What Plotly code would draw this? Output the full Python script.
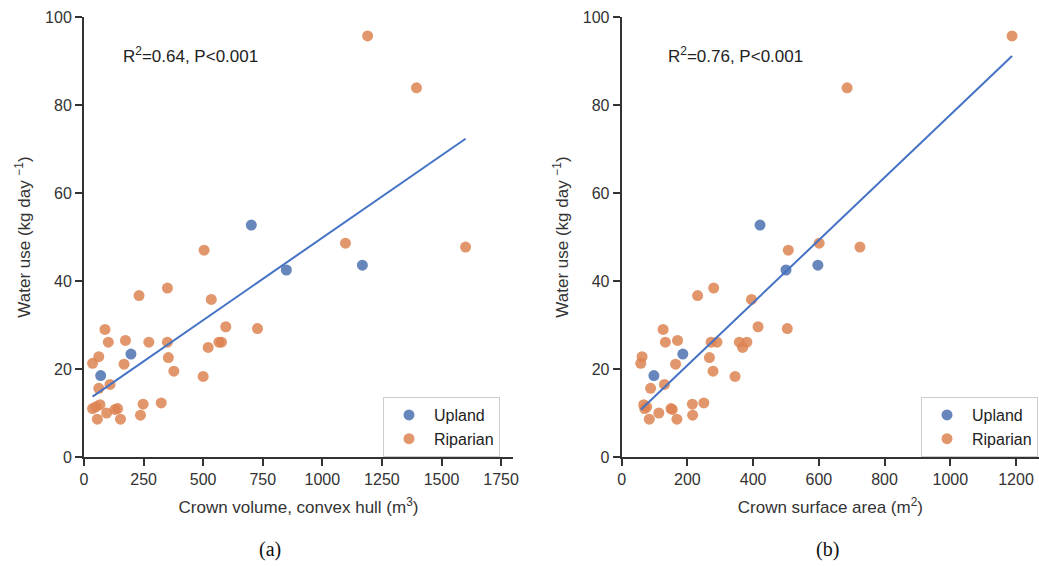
import numpy as np
import plotly.graph_objects as go

# ---- data ----
upland_volume = [702, 849, 1168, 197, 70]
upland_area = [421, 500, 597, 186, 98]
upland_water = [52.7, 42.5, 43.6, 23.4, 18.5]

riparian_volume = [1190, 1395, 1601, 1097, 504, 231, 350, 534, 88, 595, 728,
                   102, 272, 350, 566, 577, 174, 521, 62, 36, 354, 168, 377,
                   500, 109, 62, 67, 50, 36, 130, 141, 95, 248, 324, 56, 153, 237]
riparian_area = [1188, 686, 725, 601, 507, 231, 280, 395, 126, 415, 504,
                 133, 272, 290, 358, 381, 170, 368, 62, 58, 267, 164, 278,
                 345, 130, 88, 67, 76, 70, 154, 150, 113, 215, 250, 84, 168, 216]
riparian_water = [95.7, 83.9, 47.7, 48.6, 47.0, 36.7, 38.4, 35.8, 29.0, 29.6, 29.2,
                  26.1, 26.1, 26.1, 26.1, 26.1, 26.5, 24.9, 22.8, 21.3, 22.6, 21.1, 19.5,
                  18.3, 16.5, 15.6, 11.9, 11.4, 11.0, 10.8, 11.0, 10.0, 12.0, 12.3, 8.6, 8.6, 9.5]

stats_labels = ["R<sup>2</sup>=0.64, P&lt;0.001", "R<sup>2</sup>=0.76, P&lt;0.001"]
panel_labels = ["(a)", "(b)"]
x_titles = ["Crown volume, convex hull (m<sup>3</sup>)", "Crown surface area (m<sup>2</sup>)"]
y_title = "Water use (kg day <sup>−1</sup>)"

W, H = 1039, 566
UP_COL = "rgba(76,114,176,0.85)"
RIP_COL = "rgba(221,132,82,0.85)"
LINE_COL = "#4472C4"
FONT = "Liberation Sans, Arial, sans-serif"

fig = go.Figure()

panels = [
    dict(xu=upland_volume, xr=riparian_volume, xa="x", ya="y", leg="legend"),
    dict(xu=upland_area, xr=riparian_area, xa="x2", ya="y2", leg="legend2"),
]
for p in panels:
    fig.add_trace(go.Scatter(x=p["xu"], y=upland_water, mode="markers", name="Upland",
                             marker=dict(size=11, color=UP_COL, line=dict(width=0)),
                             xaxis=p["xa"], yaxis=p["ya"], legend=p["leg"]))
    fig.add_trace(go.Scatter(x=p["xr"], y=riparian_water, mode="markers", name="Riparian",
                             marker=dict(size=11, color=RIP_COL, line=dict(width=0)),
                             xaxis=p["xa"], yaxis=p["ya"], legend=p["leg"]))
    allx = np.array(p["xu"] + p["xr"], dtype=float)
    ally = np.array(upland_water + riparian_water, dtype=float)
    k, b = np.polyfit(allx, ally, 1)
    lx = np.array([allx.min(), allx.max()])
    fig.add_trace(go.Scatter(x=lx, y=k * lx + b, mode="lines", showlegend=False,
                             line=dict(color=LINE_COL, width=2),
                             xaxis=p["xa"], yaxis=p["ya"]))

ydom = [1 - 457 / H, 1 - 17 / H]
axis_common = dict(showline=True, linecolor="#333", linewidth=2, ticks="outside",
                   ticklen=7, tickwidth=1.5, tickcolor="#333", showgrid=False,
                   zeroline=False, automargin=False,
                   tickfont=dict(size=16, color="#333", family=FONT),
                   title_font=dict(size=17, color="#333", family=FONT))

fig.update_layout(
    width=W, height=H, margin=dict(l=0, r=0, t=0, b=0),
    paper_bgcolor="white", plot_bgcolor="white",
    font=dict(family=FONT, color="#333"),
    xaxis=dict(domain=[84 / W, 513 / W], range=[0, 1800], tickvals=[0, 250, 500, 750, 1000, 1250, 1500, 1750],
               anchor="y", title=dict(text=x_titles[0], standoff=14), **axis_common),
    yaxis=dict(domain=ydom, range=[0, 100], tickvals=[0, 20, 40, 60, 80, 100], anchor="x",
               title=dict(text=y_title, standoff=10), **axis_common),
    xaxis2=dict(domain=[621.7 / W, 1.0], range=[0, 1270], tickvals=[0, 200, 400, 600, 800, 1000, 1200],
                anchor="y2", title=dict(text=x_titles[1], standoff=14), **axis_common),
    yaxis2=dict(domain=ydom, range=[0, 100], tickvals=[0, 20, 40, 60, 80, 100], anchor="x2",
                title=dict(text=y_title, standoff=10), **axis_common),
    legend=dict(x=383 / W, y=1 - 397 / H, xanchor="left", yanchor="top",
                bordercolor="#ccc", borderwidth=1, bgcolor="white",
                font=dict(size=16, color="#222", family=FONT), itemwidth=40),
    legend2=dict(x=921 / W, y=1 - 397 / H, xanchor="left", yanchor="top",
                 bordercolor="#ccc", borderwidth=1, bgcolor="white",
                 font=dict(size=16, color="#222", family=FONT), itemwidth=40),
)

# statistics text
fig.add_annotation(x=121 / W, y=1 - 55 / H, xref="paper", yref="paper", text=stats_labels[0],
                   showarrow=False, xanchor="left", yanchor="middle",
                   font=dict(size=17, color="#222", family=FONT))
fig.add_annotation(x=666 / W, y=1 - 55 / H, xref="paper", yref="paper", text=stats_labels[1],
                   showarrow=False, xanchor="left", yanchor="middle",
                   font=dict(size=17, color="#222", family=FONT))
# panel labels
for lbl, cx in zip(panel_labels, [270, 827]):
    fig.add_annotation(x=cx / W, y=1 - 549 / H, xref="paper", yref="paper", text=lbl,
                       showarrow=False, xanchor="center", yanchor="middle",
                       font=dict(size=20, color="#111", family="Liberation Serif, DejaVu Serif, serif"))

fig.write_html("out.html")
